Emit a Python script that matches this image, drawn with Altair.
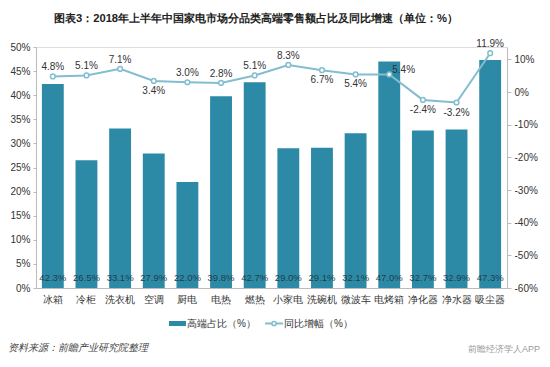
import altair as alt
import pandas as pd

categories = ["冰箱", "冷柜", "洗衣机", "空调", "厨电", "电热", "燃热", "小家电",
              "洗碗机", "微波车", "电烤箱", "净化器", "净水器", "吸尘器"]
high_end_share = [42.3, 26.5, 33.1, 27.9, 22.0, 39.8, 42.7, 29.0, 29.1, 32.1, 47.0, 32.7, 32.9, 47.3]
yoy_growth = [4.8, 5.1, 7.1, 3.4, 3.0, 2.8, 5.1, 8.3, 6.7, 5.4, 5.4, -2.4, -3.2, 11.9]
growth_label_side = ["above", "above", "above", "below", "above", "above", "above",
                     "above", "below", "below", "right", "below", "below", "above"]

title_text = "图表3：2018年上半年中国家电市场分品类高端零售额占比及同比增速（单位：%）"
legend_bar = "高端占比（%）"
legend_line = "同比增幅（%）"
source_text = "资料来源：前瞻产业研究院整理"
brand_text = "前瞻经济学人APP"

df = pd.DataFrame({
    "cat": categories,
    "share": high_end_share,
    "growth": yoy_growth,
    "side": growth_label_side,
})
df["share_lbl"] = df["share"].map(lambda v: f"{v:.1f}%")
df["growth_lbl"] = df["growth"].map(lambda v: f"{v:.1f}%")
df["zero"] = 0

W, H = 471, 241
BAR = "#2d8aa6"
LINE = "#82bdd0"
FONT = "Microsoft YaHei, Noto Sans CJK SC, sans-serif"

xenc = alt.X("cat:N", sort=categories, title=None,
             scale=alt.Scale(paddingInner=0.35, paddingOuter=0.175),
             axis=alt.Axis(labelAngle=0, labelFontSize=10, labelColor="#333",
                           domainColor="#bbb", ticks=False, labelPadding=6))

left_scale = alt.Scale(domain=[0, 50], nice=False, zero=True)
right_scale = alt.Scale(domain=[-60, 13.8], nice=False, zero=False)
left_axis = alt.Axis(values=list(range(0, 51, 5)), labelExpr="datum.value + '%'",
                     grid=False, labelFontSize=10, labelColor="#333",
                     domainColor="#bbb", tickColor="#bbb", tickSize=3,
                     labelPadding=3, orient="left", labelOverlap=False)
right_axis = alt.Axis(orient="right", values=list(range(-60, 11, 10)),
                      labelExpr="datum.value + '%'", grid=False,
                      labelFontSize=10, labelColor="#333",
                      domainColor="#bbb", tickColor="#bbb", tickSize=4,
                      labelPadding=3, labelOverlap=False)

base = alt.Chart(df)

bars = base.mark_bar(color=BAR).encode(
    x=xenc,
    y=alt.Y("share:Q", scale=left_scale, title=None, axis=left_axis),
)
bar_labels = base.mark_text(fontSize=9.5, color="#1f3f4c", dy=-10, baseline="middle").encode(
    x=xenc,
    y=alt.Y("zero:Q", scale=left_scale, title=None, axis=left_axis),
    text="share_lbl:N",
)
left_layer = alt.layer(bars, bar_labels)

ry = alt.Y("growth:Q", scale=right_scale, title=None, axis=right_axis)
line = base.mark_line(color=LINE, strokeWidth=2).encode(x=xenc, y=ry)
points = base.mark_point(filled=True, fill="white", stroke=LINE, strokeWidth=1.5,
                         size=22, opacity=1).encode(x=xenc, y=ry)
lbl_above = base.mark_text(fontSize=10, color="#333", dy=-9).encode(
    x=xenc, y=ry, text="growth_lbl:N").transform_filter("datum.side == 'above'")
lbl_below = base.mark_text(fontSize=10, color="#333", dy=10).encode(
    x=xenc, y=ry, text="growth_lbl:N").transform_filter("datum.side == 'below'")
lbl_right = base.mark_text(fontSize=10, color="#333", dx=3, dy=-4, align="left").encode(
    x=xenc, y=ry, text="growth_lbl:N").transform_filter("datum.side == 'right'")
right_layer = alt.layer(line, points, lbl_above, lbl_below, lbl_right)

one = pd.DataFrame({"a": [0]})
onec = alt.Chart(one)

title_mark = onec.mark_text(align="center", baseline="middle", fontSize=11.2,
                            fontWeight="bold", color="#222").encode(
    x=alt.value(220), y=alt.value(-28), text=alt.value(title_text))
leg_bar_sym = onec.mark_rect(color=BAR).encode(
    x=alt.value(133), x2=alt.value(150), y=alt.value(274), y2=alt.value(279))
leg_bar_txt = onec.mark_text(align="left", baseline="middle", fontSize=10, color="#333").encode(
    x=alt.value(151), y=alt.value(276.5), text=alt.value(legend_bar))
leg_line_sym = onec.mark_rule(color=LINE, strokeWidth=2).encode(
    x=alt.value(229), x2=alt.value(247), y=alt.value(276.5))
leg_line_pt = onec.mark_point(filled=True, fill="white", stroke=LINE, strokeWidth=1.5,
                              size=18, opacity=1).encode(
    x=alt.value(238), y=alt.value(276.5))
leg_line_txt = onec.mark_text(align="left", baseline="middle", fontSize=10, color="#333").encode(
    x=alt.value(248), y=alt.value(276.5), text=alt.value(legend_line))
src = onec.mark_text(align="left", baseline="middle", fontSize=10, color="#444",
                     fontStyle="italic").encode(
    x=alt.value(-28), y=alt.value(301), text=alt.value(source_text))
brand = onec.mark_text(align="left", baseline="middle", fontSize=9, color="#999").encode(
    x=alt.value(432), y=alt.value(302), text=alt.value(brand_text))

extras = alt.layer(title_mark, leg_bar_sym, leg_bar_txt, leg_line_sym, leg_line_pt,
                   leg_line_txt, src, brand)

chart = alt.layer(left_layer, right_layer, extras).resolve_scale(y="independent").properties(
    width=W, height=H,
    autosize=alt.AutoSizeParams(type="none"),
    padding={"left": 28, "top": 39, "right": 35, "bottom": 71},
).configure_view(stroke=None).configure_text(font=FONT).configure_axis(
    labelFont=FONT
).configure(background="white")

chart.save("out.html", embed_options={"renderer": "svg", "actions": False})
